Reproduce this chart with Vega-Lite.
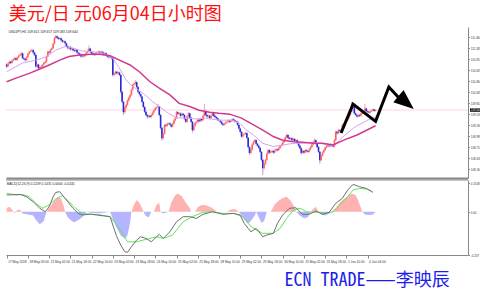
{
"$schema":"https://vega.github.io/schema/vega-lite/v6.json",
"background":"white",
"padding":{"left":3,"top":6,"right":0,"bottom":0},
"title":{"text":"美元/日 元06月04日小时图","anchor":"start","color":"#FF1010","font":"Noto Sans CJK SC","fontSize":18,"fontWeight":"normal","offset":3,"dx":5},
"config":{"view":{"stroke":null},"axis":{"grid":false,"labelOverlap":false,"labelBound":false}},
"spacing":1,
"datasets":{
"bars":[
{"i":0,"o":110.78,"h":110.81,"l":110.70,"c":110.73},{"i":1,"o":110.73,"h":110.83,"l":110.71,"c":110.80},{"i":2,"o":110.80,"h":110.88,"l":110.78,"c":110.85},{"i":3,"o":110.85,"h":110.87,"l":110.79,"c":110.82},{"i":4,"o":110.82,"h":110.90,"l":110.80,"c":110.88},{"i":5,"o":110.88,"h":110.94,"l":110.86,"c":110.91},{"i":6,"o":110.91,"h":110.97,"l":110.89,"c":110.94},{"i":7,"o":110.94,"h":110.96,"l":110.87,"c":110.90},{"i":8,"o":110.90,"h":110.98,"l":110.88,"c":110.96},{"i":9,"o":110.96,"h":111.03,"l":110.94,"c":111.00},
{"i":10,"o":111.00,"h":111.05,"l":110.98,"c":111.02},{"i":11,"o":111.02,"h":111.09,"l":111.00,"c":111.06},{"i":12,"o":111.06,"h":111.08,"l":110.91,"c":110.94},{"i":13,"o":110.94,"h":110.96,"l":110.89,"c":110.92},{"i":14,"o":110.92,"h":110.94,"l":110.86,"c":110.89},{"i":15,"o":110.89,"h":110.99,"l":110.87,"c":110.97},{"i":16,"o":110.97,"h":111.07,"l":110.95,"c":111.05},{"i":17,"o":111.05,"h":111.12,"l":111.03,"c":111.10},{"i":18,"o":111.10,"h":111.15,"l":111.08,"c":111.12},{"i":19,"o":111.12,"h":111.18,"l":111.10,"c":111.14},
{"i":20,"o":111.14,"h":111.16,"l":111.05,"c":111.08},{"i":21,"o":111.08,"h":111.10,"l":110.99,"c":111.02},{"i":22,"o":111.02,"h":111.04,"l":110.70,"c":110.73},{"i":23,"o":110.73,"h":110.81,"l":110.70,"c":110.78},{"i":24,"o":110.78,"h":110.80,"l":110.66,"c":110.69},{"i":25,"o":110.69,"h":110.73,"l":110.67,"c":110.70},{"i":26,"o":110.70,"h":110.76,"l":110.68,"c":110.73},{"i":27,"o":110.73,"h":110.80,"l":110.71,"c":110.78},{"i":28,"o":110.78,"h":110.85,"l":110.76,"c":110.82},{"i":29,"o":110.82,"h":110.88,"l":110.80,"c":110.85},
{"i":30,"o":110.85,"h":111.01,"l":110.83,"c":110.98},{"i":31,"o":110.98,"h":111.13,"l":110.96,"c":111.10},{"i":32,"o":111.10,"h":111.12,"l":111.05,"c":111.08},{"i":33,"o":111.08,"h":111.18,"l":111.06,"c":111.15},{"i":34,"o":111.15,"h":111.22,"l":111.13,"c":111.19},{"i":35,"o":111.19,"h":111.33,"l":111.17,"c":111.30},{"i":36,"o":111.30,"h":111.47,"l":111.28,"c":111.44},{"i":37,"o":111.44,"h":111.52,"l":111.42,"c":111.49},{"i":38,"o":111.49,"h":111.51,"l":111.42,"c":111.45},{"i":39,"o":111.45,"h":111.47,"l":111.39,"c":111.42},
{"i":40,"o":111.42,"h":111.47,"l":111.40,"c":111.44},{"i":41,"o":111.44,"h":111.46,"l":111.36,"c":111.39},{"i":42,"o":111.39,"h":111.41,"l":111.32,"c":111.35},{"i":43,"o":111.35,"h":111.39,"l":111.33,"c":111.36},{"i":44,"o":111.36,"h":111.38,"l":111.28,"c":111.31},{"i":45,"o":111.31,"h":111.33,"l":111.21,"c":111.24},{"i":46,"o":111.24,"h":111.26,"l":111.16,"c":111.19},{"i":47,"o":111.19,"h":111.25,"l":111.17,"c":111.22},{"i":48,"o":111.22,"h":111.24,"l":111.13,"c":111.16},{"i":49,"o":111.16,"h":111.21,"l":111.14,"c":111.18},
{"i":50,"o":111.18,"h":111.20,"l":111.11,"c":111.14},{"i":51,"o":111.14,"h":111.16,"l":111.09,"c":111.12},{"i":52,"o":111.12,"h":111.18,"l":111.10,"c":111.15},{"i":53,"o":111.15,"h":111.17,"l":111.05,"c":111.08},{"i":54,"o":111.08,"h":111.10,"l":111.03,"c":111.06},{"i":55,"o":111.06,"h":111.08,"l":110.99,"c":111.02},{"i":56,"o":111.02,"h":111.04,"l":110.95,"c":110.98},{"i":57,"o":110.98,"h":111.03,"l":110.96,"c":111.00},{"i":58,"o":111.00,"h":111.02,"l":110.96,"c":110.99},{"i":59,"o":110.99,"h":111.05,"l":110.97,"c":111.02},
{"i":60,"o":111.02,"h":111.11,"l":111.00,"c":111.08},{"i":61,"o":111.08,"h":111.15,"l":111.06,"c":111.12},{"i":62,"o":111.12,"h":111.26,"l":111.10,"c":111.18},{"i":63,"o":111.18,"h":111.20,"l":111.07,"c":111.10},{"i":64,"o":111.10,"h":111.12,"l":111.03,"c":111.06},{"i":65,"o":111.06,"h":111.08,"l":111.01,"c":111.04},{"i":66,"o":111.04,"h":111.06,"l":110.99,"c":111.02},{"i":67,"o":111.02,"h":111.09,"l":111.00,"c":111.06},{"i":68,"o":111.06,"h":111.11,"l":111.04,"c":111.08},{"i":69,"o":111.08,"h":111.13,"l":111.06,"c":111.10},
{"i":70,"o":111.10,"h":111.12,"l":111.04,"c":111.07},{"i":71,"o":111.07,"h":111.13,"l":111.05,"c":111.10},{"i":72,"o":111.10,"h":111.12,"l":111.05,"c":111.08},{"i":73,"o":111.08,"h":111.10,"l":111.01,"c":111.04},{"i":74,"o":111.04,"h":111.09,"l":111.02,"c":111.06},{"i":75,"o":111.06,"h":111.08,"l":110.98,"c":111.01},{"i":76,"o":111.01,"h":111.03,"l":110.95,"c":110.98},{"i":77,"o":110.98,"h":111.00,"l":110.93,"c":110.96},{"i":78,"o":110.96,"h":111.00,"l":110.94,"c":110.97},{"i":79,"o":110.97,"h":110.99,"l":110.91,"c":110.94},
{"i":80,"o":110.94,"h":110.96,"l":110.48,"c":110.52},{"i":81,"o":110.52,"h":110.58,"l":110.49,"c":110.55},{"i":82,"o":110.55,"h":110.63,"l":110.53,"c":110.60},{"i":83,"o":110.60,"h":110.62,"l":110.53,"c":110.56},{"i":84,"o":110.56,"h":110.61,"l":110.54,"c":110.58},{"i":85,"o":110.58,"h":110.60,"l":110.49,"c":110.52},{"i":86,"o":110.52,"h":110.54,"l":110.06,"c":110.10},{"i":87,"o":110.10,"h":110.12,"l":109.81,"c":109.85},{"i":88,"o":109.85,"h":109.87,"l":109.52,"c":109.59},{"i":89,"o":109.59,"h":109.73,"l":109.56,"c":109.70},
{"i":90,"o":109.70,"h":109.80,"l":109.67,"c":109.77},{"i":91,"o":109.77,"h":109.91,"l":109.75,"c":109.88},{"i":92,"o":109.88,"h":109.98,"l":109.85,"c":109.95},{"i":93,"o":109.95,"h":110.05,"l":109.93,"c":110.02},{"i":94,"o":110.02,"h":110.18,"l":110.00,"c":110.15},{"i":95,"o":110.15,"h":110.30,"l":110.13,"c":110.27},{"i":96,"o":110.27,"h":110.33,"l":110.25,"c":110.30},{"i":97,"o":110.30,"h":110.40,"l":110.28,"c":110.34},{"i":98,"o":110.34,"h":110.36,"l":110.19,"c":110.22},{"i":99,"o":110.22,"h":110.24,"l":110.07,"c":110.10},
{"i":100,"o":110.10,"h":110.12,"l":110.01,"c":110.04},{"i":101,"o":110.04,"h":110.06,"l":109.95,"c":109.98},{"i":102,"o":109.98,"h":110.00,"l":109.82,"c":109.85},{"i":103,"o":109.85,"h":109.87,"l":109.69,"c":109.72},{"i":104,"o":109.72,"h":109.74,"l":109.57,"c":109.60},{"i":105,"o":109.60,"h":109.62,"l":109.49,"c":109.52},{"i":106,"o":109.52,"h":109.54,"l":109.42,"c":109.48},{"i":107,"o":109.48,"h":109.53,"l":109.45,"c":109.50},{"i":108,"o":109.50,"h":109.52,"l":109.44,"c":109.47},{"i":109,"o":109.47,"h":109.55,"l":109.45,"c":109.52},
{"i":110,"o":109.52,"h":109.61,"l":109.50,"c":109.58},{"i":111,"o":109.58,"h":109.67,"l":109.56,"c":109.64},{"i":112,"o":109.64,"h":109.72,"l":109.62,"c":109.69},{"i":113,"o":109.69,"h":109.74,"l":109.67,"c":109.71},{"i":114,"o":109.71,"h":109.80,"l":109.69,"c":109.73},{"i":115,"o":109.73,"h":109.75,"l":109.49,"c":109.52},{"i":116,"o":109.52,"h":109.54,"l":109.16,"c":109.20},{"i":117,"o":109.20,"h":109.22,"l":108.88,"c":108.94},{"i":118,"o":108.94,"h":109.08,"l":108.91,"c":109.05},{"i":119,"o":109.05,"h":109.30,"l":109.03,"c":109.27},
{"i":120,"o":109.27,"h":109.30,"l":109.22,"c":109.25},{"i":121,"o":109.25,"h":109.33,"l":109.23,"c":109.30},{"i":122,"o":109.30,"h":109.34,"l":109.27,"c":109.31},{"i":123,"o":109.31,"h":109.33,"l":109.25,"c":109.28},{"i":124,"o":109.28,"h":109.30,"l":109.20,"c":109.23},{"i":125,"o":109.23,"h":109.33,"l":109.21,"c":109.30},{"i":126,"o":109.30,"h":109.41,"l":109.28,"c":109.38},{"i":127,"o":109.38,"h":109.47,"l":109.36,"c":109.44},{"i":128,"o":109.44,"h":109.62,"l":109.42,"c":109.59},{"i":129,"o":109.59,"h":109.61,"l":109.52,"c":109.55},
{"i":130,"o":109.55,"h":109.59,"l":109.53,"c":109.56},{"i":131,"o":109.56,"h":109.58,"l":109.47,"c":109.50},{"i":132,"o":109.50,"h":109.58,"l":109.48,"c":109.55},{"i":133,"o":109.55,"h":109.57,"l":109.49,"c":109.52},{"i":134,"o":109.52,"h":109.54,"l":109.39,"c":109.42},{"i":135,"o":109.42,"h":109.44,"l":109.32,"c":109.35},{"i":136,"o":109.35,"h":109.51,"l":109.33,"c":109.48},{"i":137,"o":109.48,"h":109.59,"l":109.46,"c":109.56},{"i":138,"o":109.56,"h":109.58,"l":109.42,"c":109.45},{"i":139,"o":109.45,"h":109.47,"l":109.32,"c":109.35},
{"i":140,"o":109.35,"h":109.37,"l":109.08,"c":109.14},{"i":141,"o":109.14,"h":109.28,"l":109.12,"c":109.25},{"i":142,"o":109.25,"h":109.35,"l":109.23,"c":109.32},{"i":143,"o":109.32,"h":109.38,"l":109.30,"c":109.35},{"i":144,"o":109.35,"h":109.43,"l":109.33,"c":109.40},{"i":145,"o":109.40,"h":109.42,"l":109.33,"c":109.36},{"i":146,"o":109.36,"h":109.45,"l":109.34,"c":109.42},{"i":147,"o":109.42,"h":109.44,"l":109.36,"c":109.39},{"i":148,"o":109.39,"h":109.53,"l":109.37,"c":109.50},{"i":149,"o":109.50,"h":109.80,"l":109.48,"c":109.62},
{"i":150,"o":109.62,"h":109.64,"l":109.49,"c":109.52},{"i":151,"o":109.52,"h":109.54,"l":109.45,"c":109.48},{"i":152,"o":109.48,"h":109.53,"l":109.46,"c":109.50},{"i":153,"o":109.50,"h":109.52,"l":109.41,"c":109.44},{"i":154,"o":109.44,"h":109.53,"l":109.42,"c":109.50},{"i":155,"o":109.50,"h":109.59,"l":109.48,"c":109.56},{"i":156,"o":109.56,"h":109.58,"l":109.47,"c":109.50},{"i":157,"o":109.50,"h":109.52,"l":109.44,"c":109.47},{"i":158,"o":109.47,"h":109.49,"l":109.41,"c":109.44},{"i":159,"o":109.44,"h":109.46,"l":109.37,"c":109.40},
{"i":160,"o":109.40,"h":109.42,"l":109.35,"c":109.38},{"i":161,"o":109.38,"h":109.40,"l":109.32,"c":109.35},{"i":162,"o":109.35,"h":109.37,"l":109.27,"c":109.30},{"i":163,"o":109.30,"h":109.32,"l":109.24,"c":109.27},{"i":164,"o":109.27,"h":109.33,"l":109.25,"c":109.30},{"i":165,"o":109.30,"h":109.36,"l":109.28,"c":109.33},{"i":166,"o":109.33,"h":109.38,"l":109.31,"c":109.35},{"i":167,"o":109.35,"h":109.41,"l":109.33,"c":109.38},{"i":168,"o":109.38,"h":109.40,"l":109.32,"c":109.35},{"i":169,"o":109.35,"h":109.40,"l":109.33,"c":109.37},
{"i":170,"o":109.37,"h":109.44,"l":109.35,"c":109.41},{"i":171,"o":109.41,"h":109.44,"l":109.36,"c":109.39},{"i":172,"o":109.39,"h":109.41,"l":109.33,"c":109.36},{"i":173,"o":109.36,"h":109.38,"l":109.32,"c":109.35},{"i":174,"o":109.35,"h":109.37,"l":109.24,"c":109.27},{"i":175,"o":109.27,"h":109.29,"l":109.15,"c":109.18},{"i":176,"o":109.18,"h":109.20,"l":109.07,"c":109.10},{"i":177,"o":109.10,"h":109.12,"l":108.95,"c":108.98},{"i":178,"o":108.98,"h":109.06,"l":108.96,"c":109.03},{"i":179,"o":109.03,"h":109.08,"l":109.01,"c":109.05},
{"i":180,"o":109.05,"h":109.10,"l":109.02,"c":109.07},{"i":181,"o":109.07,"h":109.09,"l":108.92,"c":108.95},{"i":182,"o":108.95,"h":108.97,"l":108.68,"c":108.72},{"i":183,"o":108.72,"h":108.74,"l":108.52,"c":108.57},{"i":184,"o":108.57,"h":108.68,"l":108.55,"c":108.65},{"i":185,"o":108.65,"h":108.81,"l":108.63,"c":108.78},{"i":186,"o":108.78,"h":108.88,"l":108.76,"c":108.85},{"i":187,"o":108.85,"h":108.92,"l":108.83,"c":108.89},{"i":188,"o":108.89,"h":108.91,"l":108.77,"c":108.80},{"i":189,"o":108.80,"h":108.82,"l":108.72,"c":108.75},
{"i":190,"o":108.75,"h":108.77,"l":108.67,"c":108.70},{"i":191,"o":108.70,"h":108.72,"l":108.57,"c":108.60},{"i":192,"o":108.60,"h":108.62,"l":108.36,"c":108.40},{"i":193,"o":108.40,"h":108.42,"l":108.02,"c":108.19},{"i":194,"o":108.19,"h":108.33,"l":108.15,"c":108.30},{"i":195,"o":108.30,"h":108.42,"l":108.27,"c":108.39},{"i":196,"o":108.39,"h":108.58,"l":108.37,"c":108.55},{"i":197,"o":108.55,"h":108.67,"l":108.53,"c":108.64},{"i":198,"o":108.64,"h":108.66,"l":108.55,"c":108.58},{"i":199,"o":108.58,"h":108.63,"l":108.56,"c":108.60},
{"i":200,"o":108.60,"h":108.65,"l":108.58,"c":108.62},{"i":201,"o":108.62,"h":108.64,"l":108.55,"c":108.58},{"i":202,"o":108.58,"h":108.66,"l":108.56,"c":108.63},{"i":203,"o":108.63,"h":108.69,"l":108.61,"c":108.66},{"i":204,"o":108.66,"h":108.68,"l":108.61,"c":108.64},{"i":205,"o":108.64,"h":108.72,"l":108.62,"c":108.69},{"i":206,"o":108.69,"h":108.77,"l":108.67,"c":108.74},{"i":207,"o":108.74,"h":108.80,"l":108.72,"c":108.77},{"i":208,"o":108.77,"h":108.86,"l":108.75,"c":108.83},{"i":209,"o":108.83,"h":108.93,"l":108.81,"c":108.90},
{"i":210,"o":108.90,"h":108.99,"l":108.88,"c":108.96},{"i":211,"o":108.96,"h":109.06,"l":108.94,"c":109.02},{"i":212,"o":109.02,"h":109.04,"l":108.92,"c":108.95},{"i":213,"o":108.95,"h":108.97,"l":108.89,"c":108.92},{"i":214,"o":108.92,"h":108.97,"l":108.90,"c":108.94},{"i":215,"o":108.94,"h":108.96,"l":108.86,"c":108.89},{"i":216,"o":108.89,"h":108.95,"l":108.87,"c":108.92},{"i":217,"o":108.92,"h":108.94,"l":108.84,"c":108.87},{"i":218,"o":108.87,"h":108.92,"l":108.85,"c":108.89},{"i":219,"o":108.89,"h":108.91,"l":108.79,"c":108.82},
{"i":220,"o":108.82,"h":108.84,"l":108.72,"c":108.75},{"i":221,"o":108.75,"h":108.77,"l":108.66,"c":108.69},{"i":222,"o":108.69,"h":108.71,"l":108.53,"c":108.57},{"i":223,"o":108.57,"h":108.65,"l":108.55,"c":108.62},{"i":224,"o":108.62,"h":108.64,"l":108.55,"c":108.58},{"i":225,"o":108.58,"h":108.67,"l":108.56,"c":108.64},{"i":226,"o":108.64,"h":108.66,"l":108.59,"c":108.62},{"i":227,"o":108.62,"h":108.64,"l":108.57,"c":108.60},{"i":228,"o":108.60,"h":108.69,"l":108.58,"c":108.66},{"i":229,"o":108.66,"h":108.75,"l":108.64,"c":108.72},
{"i":230,"o":108.72,"h":108.81,"l":108.70,"c":108.78},{"i":231,"o":108.78,"h":108.87,"l":108.76,"c":108.84},{"i":232,"o":108.84,"h":108.93,"l":108.82,"c":108.89},{"i":233,"o":108.89,"h":108.91,"l":108.77,"c":108.80},{"i":234,"o":108.80,"h":108.82,"l":108.69,"c":108.72},{"i":235,"o":108.72,"h":108.74,"l":108.57,"c":108.60},{"i":236,"o":108.60,"h":108.62,"l":108.30,"c":108.39},{"i":237,"o":108.39,"h":108.53,"l":108.36,"c":108.50},{"i":238,"o":108.50,"h":108.61,"l":108.48,"c":108.58},{"i":239,"o":108.58,"h":108.67,"l":108.56,"c":108.64},
{"i":240,"o":108.64,"h":108.73,"l":108.62,"c":108.70},{"i":241,"o":108.70,"h":108.77,"l":108.68,"c":108.74},{"i":242,"o":108.74,"h":108.80,"l":108.72,"c":108.77},{"i":243,"o":108.77,"h":108.79,"l":108.71,"c":108.74},{"i":244,"o":108.74,"h":108.81,"l":108.72,"c":108.78},{"i":245,"o":108.78,"h":108.80,"l":108.73,"c":108.76},{"i":246,"o":108.76,"h":108.78,"l":108.70,"c":108.73},{"i":247,"o":108.73,"h":108.92,"l":108.71,"c":108.89},{"i":248,"o":108.89,"h":109.13,"l":108.87,"c":109.10},{"i":249,"o":109.10,"h":109.12,"l":109.03,"c":109.06},
{"i":250,"o":109.06,"h":109.17,"l":109.04,"c":109.14},{"i":251,"o":109.14,"h":109.16,"l":109.09,"c":109.12},{"i":252,"o":109.12,"h":109.17,"l":109.10,"c":109.14},{"i":253,"o":109.14,"h":109.30,"l":109.12,"c":109.27},{"i":254,"o":109.27,"h":109.33,"l":109.25,"c":109.30},{"i":255,"o":109.30,"h":109.38,"l":109.28,"c":109.35},{"i":256,"o":109.35,"h":109.42,"l":109.33,"c":109.39},{"i":257,"o":109.39,"h":109.48,"l":109.37,"c":109.45},{"i":258,"o":109.45,"h":109.55,"l":109.43,"c":109.52},{"i":259,"o":109.52,"h":109.63,"l":109.50,"c":109.60},
{"i":260,"o":109.60,"h":109.85,"l":109.58,"c":109.77},{"i":261,"o":109.77,"h":109.80,"l":109.70,"c":109.73},{"i":262,"o":109.73,"h":109.75,"l":109.53,"c":109.56},{"i":263,"o":109.56,"h":109.58,"l":109.49,"c":109.52},{"i":264,"o":109.52,"h":109.54,"l":109.45,"c":109.48},{"i":265,"o":109.48,"h":109.55,"l":109.46,"c":109.52},{"i":266,"o":109.52,"h":109.54,"l":109.47,"c":109.50},{"i":267,"o":109.50,"h":109.59,"l":109.48,"c":109.56},{"i":268,"o":109.56,"h":109.63,"l":109.54,"c":109.60},{"i":269,"o":109.60,"h":109.62,"l":109.55,"c":109.58},
{"i":270,"o":109.58,"h":109.80,"l":109.56,"c":109.68},{"i":271,"o":109.68,"h":109.70,"l":109.59,"c":109.62},{"i":272,"o":109.62,"h":109.64,"l":109.57,"c":109.60},{"i":273,"o":109.60,"h":109.62,"l":109.55,"c":109.58},{"i":274,"o":109.58,"h":109.64,"l":109.56,"c":109.61},{"i":275,"o":109.61,"h":109.66,"l":109.59,"c":109.63},{"i":276,"o":109.63,"h":109.68,"l":109.61,"c":109.66},{"i":277,"o":109.66,"h":109.67,"l":109.60,"c":109.62},{"i":278,"o":109.62,"h":109.66,"l":109.61,"c":109.644}
],
"maf":[{"i":0,"p":110.60},{"i":12,"p":110.82},{"i":22,"p":110.89},{"i":30,"p":110.98},{"i":37,"p":111.14},{"i":44,"p":111.23},{"i":50,"p":111.19},{"i":57,"p":111.12},{"i":65,"p":111.10},{"i":73,"p":111.06},{"i":80,"p":110.94},{"i":85,"p":110.69},{"i":90,"p":110.39},{"i":95,"p":110.23},{"i":103,"p":110.06},{"i":110,"p":109.85},{"i":115,"p":109.73},{"i":122,"p":109.56},{"i":128,"p":109.45},{"i":135,"p":109.44},{"i":143,"p":109.42},{"i":150,"p":109.44},{"i":160,"p":109.39},{"i":170,"p":109.39},{"i":176,"p":109.30},{"i":180,"p":109.16},{"i":186,"p":109.02},{"i":193,"p":108.81},{"i":201,"p":108.73},{"i":208,"p":108.77},{"i":216,"p":108.81},{"i":223,"p":108.81},{"i":231,"p":108.84},{"i":238,"p":108.80},{"i":246,"p":108.74},{"i":255,"p":109.02},{"i":263,"p":109.23},{"i":272,"p":109.39},{"i":278,"p":109.47}],
"mas":[{"i":0,"p":110.35},{"i":7,"p":110.44},{"i":17,"p":110.56},{"i":25,"p":110.67},{"i":32,"p":110.77},{"i":40,"p":110.89},{"i":47,"p":110.98},{"i":55,"p":111.02},{"i":63,"p":111.04},{"i":70,"p":111.04},{"i":78,"p":111.00},{"i":85,"p":110.89},{"i":93,"p":110.77},{"i":100,"p":110.60},{"i":108,"p":110.35},{"i":115,"p":110.19},{"i":123,"p":110.02},{"i":130,"p":109.81},{"i":138,"p":109.73},{"i":145,"p":109.64},{"i":153,"p":109.59},{"i":160,"p":109.56},{"i":168,"p":109.54},{"i":177,"p":109.44},{"i":186,"p":109.27},{"i":193,"p":109.14},{"i":201,"p":108.98},{"i":208,"p":108.89},{"i":216,"p":108.85},{"i":223,"p":108.84},{"i":231,"p":108.81},{"i":238,"p":108.81},{"i":246,"p":108.77},{"i":254,"p":108.89},{"i":264,"p":109.02},{"i":278,"p":109.25}],
"arrow":[{"k":0,"i":252,"p":109.07},{"k":1,"i":261,"p":109.79},{"k":2,"i":278,"p":109.36},{"k":3,"i":288,"p":110.22},{"k":4,"i":296,"p":109.93}],
"head":[{"i":301,"p":109.83}],
"macd":[{"i":0,"v":0.092},{"i":10,"v":0.095},{"i":15,"v":0.082},{"i":20,"v":0.055},{"i":25,"v":0.019},{"i":29,"v":0},{"i":32,"v":0.027},{"i":35,"v":0.082},{"i":37,"v":0.106},{"i":40,"v":0.110},{"i":42,"v":0.092},{"i":46,"v":0.055},{"i":50,"v":0.019},{"i":54,"v":-0.009},{"i":57,"v":-0.018},{"i":63,"v":-0.013},{"i":68,"v":-0.018},{"i":78,"v":-0.027},{"i":80,"v":-0.073},{"i":83,"v":-0.137},{"i":86,"v":-0.183},{"i":89,"v":-0.219},{"i":91,"v":-0.223},{"i":94,"v":-0.192},{"i":98,"v":-0.155},{"i":101,"v":-0.137},{"i":105,"v":-0.146},{"i":109,"v":-0.165},{"i":113,"v":-0.137},{"i":115,"v":-0.124},{"i":118,"v":-0.146},{"i":123,"v":-0.110},{"i":128,"v":-0.055},{"i":133,"v":-0.027},{"i":138,"v":-0.027},{"i":143,"v":-0.036},{"i":148,"v":-0.014},{"i":155,"v":0},{"i":163,"v":-0.014},{"i":171,"v":-0.009},{"i":176,"v":-0.018},{"i":179,"v":-0.064},{"i":182,"v":-0.091},{"i":184,"v":-0.110},{"i":188,"v":-0.091},{"i":193,"v":-0.137},{"i":196,"v":-0.128},{"i":201,"v":-0.118},{"i":204,"v":-0.064},{"i":208,"v":-0.018},{"i":213,"v":0.019},{"i":218,"v":0.022},{"i":223,"v":-0.014},{"i":228,"v":-0.014},{"i":233,"v":0.004},{"i":238,"v":-0.014},{"i":243,"v":-0.003},{"i":248,"v":0.046},{"i":253,"v":0.074},{"i":257,"v":0.119},{"i":261,"v":0.150},{"i":266,"v":0.137},{"i":271,"v":0.128},{"i":276,"v":0.106}],
"sig":[{"i":0,"v":0.101},{"i":7,"v":0.092},{"i":12,"v":0.095},{"i":17,"v":0.082},{"i":22,"v":0.046},{"i":27,"v":0.019},{"i":32,"v":0.037},{"i":37,"v":0.070},{"i":42,"v":0.088},{"i":47,"v":0.055},{"i":52,"v":0.019},{"i":57,"v":-0.009},{"i":63,"v":-0.014},{"i":68,"v":-0.014},{"i":78,"v":-0.027},{"i":83,"v":-0.073},{"i":88,"v":-0.128},{"i":91,"v":-0.165},{"i":98,"v":-0.165},{"i":103,"v":-0.155},{"i":108,"v":-0.146},{"i":113,"v":-0.137},{"i":118,"v":-0.146},{"i":125,"v":-0.128},{"i":133,"v":-0.055},{"i":140,"v":-0.027},{"i":148,"v":-0.003},{"i":155,"v":0},{"i":163,"v":-0.009},{"i":171,"v":-0.009},{"i":178,"v":-0.027},{"i":183,"v":-0.073},{"i":188,"v":-0.100},{"i":193,"v":-0.118},{"i":201,"v":-0.118},{"i":206,"v":-0.091},{"i":211,"v":-0.036},{"i":216,"v":0.009},{"i":221,"v":0.019},{"i":226,"v":0},{"i":231,"v":-0.003},{"i":236,"v":-0.003},{"i":241,"v":-0.009},{"i":246,"v":0},{"i":251,"v":0.037},{"i":256,"v":0.074},{"i":261,"v":0.119},{"i":266,"v":0.128},{"i":271,"v":0.125},{"i":275,"v":0.114}],
"hist":[{"i":0,"v":0.02},{"i":2,"v":0.027},{"i":4,"v":0.012},{"i":5,"v":0},{"i":6,"v":-0.006},{"i":7,"v":0},{"i":8,"v":0.01},{"i":10,"v":0.012},{"i":11,"v":0},{"i":12,"v":-0.01},{"i":16,"v":-0.015},{"i":20,"v":-0.02},{"i":22,"v":-0.045},{"i":25,"v":-0.069},{"i":28,"v":-0.05},{"i":30,"v":0},{"i":33,"v":0.03},{"i":36,"v":0.06},{"i":39,"v":0.082},{"i":41,"v":0.07},{"i":43,"v":0.03},{"i":44,"v":0},{"i":46,"v":-0.03},{"i":49,"v":-0.05},{"i":51,"v":-0.058},{"i":54,"v":-0.045},{"i":57,"v":-0.03},{"i":60,"v":0},{"i":63,"v":-0.005},{"i":70,"v":-0.008},{"i":78,"v":0},{"i":80,"v":-0.04},{"i":83,"v":-0.09},{"i":86,"v":-0.13},{"i":89,"v":-0.146},{"i":91,"v":-0.13},{"i":93,"v":-0.06},{"i":94,"v":0},{"i":96,"v":0.04},{"i":98,"v":0.064},{"i":100,"v":0.05},{"i":102,"v":0.02},{"i":103,"v":0},{"i":105,"v":-0.025},{"i":107,"v":-0.03},{"i":109,"v":0},{"i":111,"v":0},{"i":113,"v":0.04},{"i":115,"v":0.048},{"i":116,"v":0},{"i":118,"v":-0.01},{"i":122,"v":0},{"i":124,"v":0.05},{"i":127,"v":0.09},{"i":129,"v":0.1},{"i":132,"v":0.085},{"i":135,"v":0.05},{"i":138,"v":0.02},{"i":139,"v":0},{"i":142,"v":0},{"i":144,"v":0.025},{"i":147,"v":0.037},{"i":150,"v":0.035},{"i":154,"v":0.025},{"i":157,"v":0.01},{"i":158,"v":0},{"i":166,"v":0},{"i":169,"v":0.012},{"i":172,"v":0.015},{"i":175,"v":0},{"i":177,"v":-0.02},{"i":180,"v":-0.05},{"i":182,"v":-0.064},{"i":184,"v":-0.05},{"i":187,"v":-0.02},{"i":188,"v":0},{"i":190,"v":-0.03},{"i":192,"v":-0.06},{"i":194,"v":-0.05},{"i":196,"v":0},{"i":199,"v":0},{"i":202,"v":0.04},{"i":205,"v":0.06},{"i":208,"v":0.075},{"i":211,"v":0.082},{"i":214,"v":0.06},{"i":217,"v":0.025},{"i":218,"v":0},{"i":221,"v":-0.02},{"i":224,"v":-0.035},{"i":227,"v":-0.03},{"i":229,"v":0},{"i":231,"v":0.015},{"i":233,"v":0.027},{"i":235,"v":0},{"i":237,"v":-0.015},{"i":240,"v":-0.02},{"i":243,"v":-0.01},{"i":245,"v":0},{"i":248,"v":0.02},{"i":251,"v":0.05},{"i":254,"v":0.07},{"i":257,"v":0.085},{"i":260,"v":0.1},{"i":263,"v":0.09},{"i":265,"v":0.06},{"i":267,"v":0.02},{"i":268,"v":0},{"i":270,"v":-0.015},{"i":273,"v":-0.018},{"i":276,"v":-0.015},{"i":278,"v":0}]
},
"vconcat":[
{
"width":462,"height":151,
"layer":[
{"data":{"values":[{"p":109.644}]},"mark":{"type":"rule","color":"#FFD4DE","strokeWidth":1},"encoding":{"y":{"field":"p","type":"quantitative","title":null}}},
{"data":{"name":"bars"},"mark":{"type":"rule","strokeWidth":1},
 "encoding":{
  "x":{"field":"i","type":"quantitative","title":null,"scale":{"domain":[-0.5,347.65],"nice":false,"zero":false},"axis":{"orient":"bottom","labels":false,"ticks":false,"domain":true,"domainColor":"#888888","domainWidth":2,"title":null}},
  "y":{"field":"l","type":"quantitative","title":null,"scale":{"domain":[107.944,111.719],"nice":false,"zero":false},"axis":{"orient":"right","values":[111.46,111.185,110.91,110.635,110.36,110.085,109.81,109.535,109.26,108.985,108.71,108.435,108.16],"tickCount":100,"format":".3f","labelOverlap":false,"labelFontSize":2.9,"labelFont":"Liberation Sans","labelColor":"#333333","tickSize":1.5,"tickColor":"#888888","domainColor":"#888888","labelPadding":0.8,"title":null}},
  "y2":{"field":"h"},
  "color":{"condition":{"test":"datum.c >= datum.o","value":"#FFA0A0"},"value":"#A0A0F0"}}},
{"data":{"name":"bars"},"mark":{"type":"rule","strokeWidth":1.6},
 "encoding":{
  "x":{"field":"i","type":"quantitative","title":null},
  "y":{"field":"o","type":"quantitative","title":null},
  "y2":{"field":"c"},
  "color":{"condition":{"test":"datum.c >= datum.o","value":"#FF6060"},"value":"#2828D8"}}},
{"data":{"name":"maf"},"mark":{"type":"line","color":"#D7A3F0","strokeWidth":1},"encoding":{"x":{"field":"i","type":"quantitative","title":null},"y":{"field":"p","type":"quantitative","title":null}}},
{"data":{"name":"mas"},"mark":{"type":"line","color":"#D2378E","strokeWidth":1.5},"encoding":{"x":{"field":"i","type":"quantitative","title":null},"y":{"field":"p","type":"quantitative","title":null}}},
{"data":{"name":"arrow"},"mark":{"type":"line","color":"#000000","strokeWidth":3,"strokeJoin":"miter"},"encoding":{"x":{"field":"i","type":"quantitative","title":null},"y":{"field":"p","type":"quantitative","title":null},"order":{"field":"k"}}},
{"data":{"name":"head"},"mark":{"type":"point","shape":"M-1,-0.8L1,0L-1,0.8Z","filled":true,"color":"#000000","opacity":1,"size":400,"angle":40},"encoding":{"x":{"field":"i","type":"quantitative","title":null},"y":{"field":"p","type":"quantitative","title":null}}},
{"data":{"values":[{"i":0,"p":111.6,"t":"USDJPY,H1  109.615 109.657 109.583 109.644"}]},"mark":{"type":"text","align":"left","baseline":"middle","fontSize":3.3,"font":"Liberation Sans","color":"#222222","dx":2},"encoding":{"x":{"field":"i","type":"quantitative","title":null},"y":{"field":"p","type":"quantitative","title":null},"text":{"field":"t"}}},
{"data":{"values":[{"a":349.2,"b":359.8,"lo":109.6,"hi":109.688}]},"mark":{"type":"rect","color":"#000000","clip":false},"encoding":{"x":{"field":"a","type":"quantitative","title":null},"x2":{"field":"b"},"y":{"field":"lo","type":"quantitative","title":null},"y2":{"field":"hi"}}},
{"data":{"values":[{"i":349.8,"p":109.644,"t":"109.644"}]},"mark":{"type":"text","align":"left","baseline":"middle","fontSize":2.9,"font":"Liberation Sans","color":"#FFFFFF","clip":false},"encoding":{"x":{"field":"i","type":"quantitative","title":null},"y":{"field":"p","type":"quantitative","title":null},"text":{"field":"t"}}}
]
},
{
"width":462,"height":75,
"layer":[
{"data":{"values":[{"v":0.174}]},"mark":{"type":"rule","color":"#888888","strokeWidth":1},"encoding":{"y":{"field":"v","type":"quantitative","title":null}}},
{"data":{"name":"hist"},"transform":[{"filter":"datum.v >= 0"}],"mark":{"type":"area","color":"#FFB2B2","opacity":1},
 "encoding":{
  "x":{"field":"i","type":"quantitative","title":"ECN TRADE——李映辰","scale":{"domain":[-0.5,347.65],"nice":false,"zero":false},
   "axis":{"orient":"bottom","values":[0,16,32,48,64,80,96,112,128,144,160,176,192,208,224,240,256,272],"tickCount":100,"labelExpr":"['17 May 2018','18 May 09:00','21 May 02:00','21 May 18:00','22 May 10:00','23 May 02:00','23 May 18:00','24 May 10:00','25 May 02:00','25 May 18:00','28 May 10:00','29 May 02:00','29 May 18:00','30 May 10:00','31 May 02:00','31 May 18:00','1 Jun 10:00','4 Jun 04:00'][round(datum.value/16)]","labelAlign":"left","labelOffset":1,"labelFontSize":3.2,"labelFont":"Liberation Sans","labelColor":"#333333","labelPadding":1,"labelOverlap":false,"labelFlush":false,"labelBound":false,"tickSize":3,"tickColor":"#888888","domainColor":"#888888",
    "title":"ECN TRADE——李映辰","titleFont":"Noto Sans Mono CJK SC, DejaVu Sans Mono, monospace","titleFontSize":18,"titleFontWeight":"normal","titleColor":"#1E1EE8","titleAnchor":"start","titleAlign":"left","titleBaseline":"alphabetic","titleX":278,"titleY":30}},
  "y":{"field":"v","type":"quantitative","title":null,"scale":{"domain":[-0.237,0.174],"nice":false,"zero":false},
   "axis":{"orient":"right","values":[0.1558,0,-0.237],"tickCount":100,"labelExpr":"datum.value == 0 ? '0.00' : (datum.value > 0 ? '0.1558' : '-0.237')","labelOverlap":false,"labelFontSize":2.9,"labelFont":"Liberation Sans","labelColor":"#333333","tickSize":1.5,"tickColor":"#888888","domainColor":"#888888","labelPadding":0.8,"title":null}},
  "y2":{"datum":0}}},
{"data":{"name":"hist"},"transform":[{"filter":"datum.v <= 0"}],"mark":{"type":"area","color":"#B4B4FF","opacity":1},"encoding":{"x":{"field":"i","type":"quantitative","title":"ECN TRADE——李映辰"},"y":{"field":"v","type":"quantitative","title":null},"y2":{"datum":0}}},
{"data":{"name":"sig"},"mark":{"type":"line","color":"#5EE65E","strokeWidth":1},"encoding":{"x":{"field":"i","type":"quantitative","title":"ECN TRADE——李映辰"},"y":{"field":"v","type":"quantitative","title":null}}},
{"data":{"name":"macd"},"mark":{"type":"line","color":"#707070","strokeWidth":1},"encoding":{"x":{"field":"i","type":"quantitative","title":"ECN TRADE——李映辰"},"y":{"field":"v","type":"quantitative","title":null}}},
{"data":{"values":[{"i":0,"v":0.152,"t":"MACD(12,26,9) 0.1209 0.1431 0.0000 -0.0245"}]},"mark":{"type":"text","align":"left","baseline":"middle","fontSize":3.3,"font":"Liberation Sans","color":"#222222"},"encoding":{"x":{"field":"i","type":"quantitative","title":"ECN TRADE——李映辰"},"y":{"field":"v","type":"quantitative","title":null},"text":{"field":"t"}}}
]
}
]
}
